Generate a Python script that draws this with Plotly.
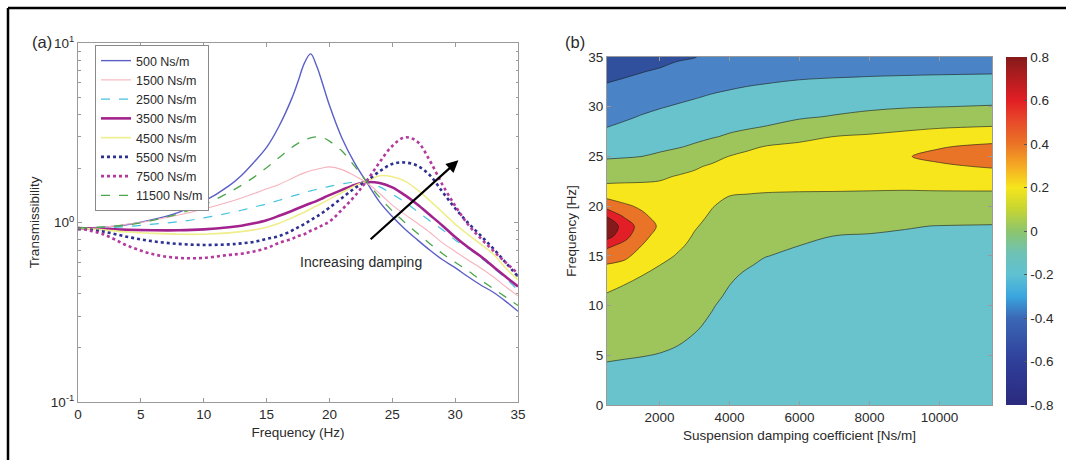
import numpy as np
import plotly.graph_objects as go

# ---------------- Panel (a): transmissibility curves ----------------
FREQ = [0, 2, 4, 6, 8, 10, 12, 13, 14, 15, 16, 17, 17.5, 18, 18.5, 19, 19.5, 20,
        21, 22, 23, 24, 25, 26, 27, 28, 29, 30, 31, 32, 33, 34, 35]

T_500 = [0.93, 0.94, 0.975, 1.04, 1.14, 1.31, 1.6, 1.83, 2.17, 2.62, 3.45, 4.9, 6.1, 7.7, 8.7, 7.4, 5.8, 4.5,
         2.95, 2.15, 1.66, 1.3, 1.08, 0.92, 0.8, 0.7, 0.62, 0.56, 0.5, 0.45, 0.41, 0.365, 0.32]
T_1500 = [0.93, 0.94, 0.98, 1.03, 1.1, 1.19, 1.3, 1.37, 1.45, 1.54, 1.63, 1.76, 1.83, 1.89, 1.94, 1.98, 2.02, 2.04,
          1.97, 1.82, 1.66, 1.45, 1.25, 1.11, 0.99, 0.88, 0.77, 0.69, 0.62, 0.56, 0.5, 0.44, 0.39]
T_2500 = [0.93, 0.935, 0.95, 0.98, 1.01, 1.06, 1.13, 1.17, 1.22, 1.27, 1.33, 1.4, 1.43, 1.47, 1.5, 1.53, 1.56, 1.59,
          1.64, 1.68, 1.67, 1.58, 1.44, 1.3, 1.15, 1.02, 0.91, 0.8, 0.72, 0.64, 0.56, 0.49, 0.42]
T_3500 = [0.93, 0.92, 0.91, 0.905, 0.905, 0.915, 0.94, 0.96, 0.99, 1.03, 1.09, 1.16, 1.2, 1.24, 1.28, 1.32, 1.37, 1.42,
          1.52, 1.62, 1.68, 1.66, 1.57, 1.42, 1.26, 1.1, 0.96, 0.83, 0.73, 0.65, 0.57, 0.5, 0.44]
T_4500 = [0.93, 0.91, 0.885, 0.87, 0.86, 0.86, 0.875, 0.89, 0.91, 0.94, 0.99, 1.06, 1.1, 1.14, 1.19, 1.24, 1.29, 1.35,
          1.47, 1.6, 1.7, 1.82, 1.8, 1.7, 1.52, 1.32, 1.14, 0.98, 0.86, 0.76, 0.67, 0.56, 0.48]
T_5500 = [0.93, 0.89, 0.83, 0.785, 0.76, 0.75, 0.755, 0.765, 0.78, 0.81, 0.84, 0.9, 0.94, 0.98, 1.03, 1.08, 1.14, 1.21,
          1.37, 1.55, 1.71, 1.93, 2.12, 2.16, 2.07, 1.83, 1.48, 1.2, 1.0, 0.85, 0.72, 0.6, 0.5]
T_7500 = [0.93, 0.86, 0.74, 0.665, 0.635, 0.635, 0.66, 0.67, 0.69, 0.72, 0.77, 0.81, 0.84, 0.86, 0.9, 0.93, 0.97, 1.01,
          1.18, 1.4, 1.72, 2.17, 2.67, 2.98, 2.82, 2.2, 1.62, 1.24, 0.98, 0.82, 0.7, 0.6, 0.52]
T_11500 = [0.93, 0.945, 0.97, 1.03, 1.12, 1.25, 1.47, 1.61, 1.79, 2.02, 2.3, 2.62, 2.76, 2.88, 2.96, 3.0, 2.96, 2.84,
           2.5, 2.06, 1.68, 1.38, 1.16, 1.0, 0.87, 0.76, 0.67, 0.6, 0.54, 0.48, 0.43, 0.385, 0.345]

SERIES_NAMES = ["500 Ns/m", "1500 Ns/m", "2500 Ns/m", "3500 Ns/m",
                "4500 Ns/m", "5500 Ns/m", "7500 Ns/m", "11500 Ns/m"]
SERIES_VALUES = [T_500, T_1500, T_2500, T_3500, T_4500, T_5500, T_7500, T_11500]
SERIES_STYLE = [
    dict(color="#5b5fc7", width=1.4, dash="solid"),
    dict(color="#f6b3bd", width=1.1, dash="solid"),
    dict(color="#45c3dd", width=1.2, dash="dash"),
    dict(color="#a3238e", width=2.6, dash="solid"),
    dict(color="#eeee8c", width=1.6, dash="solid"),
    dict(color="#2e3192", width=2.6, dash="dot"),
    dict(color="#b4399f", width=2.6, dash="dot"),
    dict(color="#4ca64c", width=1.3, dash="dash"),
]

# ---------------- Panel (b): contour map ----------------
DAMPING = [500, 1000, 1500, 2000, 2500, 3000, 3500, 4000, 4500, 5000, 6000, 7000, 8000, 9000, 10000, 11500]
FREQ_B = [0, 2, 4, 6, 8, 10, 11, 12, 13, 14, 15, 16, 17, 18, 19, 20, 21, 22, 23, 24, 25,
          26, 27, 28, 29, 30, 31, 32, 33, 34, 35]

Z_C500 = [-0.2, -0.155, -0.109, -0.055, 0.001, 0.058, 0.086, 0.136, 0.209, 0.282, 0.391, 0.54, 0.78, 0.81, 0.69,
          0.42, 0.26, 0.125, 0.036, -0.044, -0.119, -0.181, -0.244, -0.304, -0.349, -0.393, -0.438, -0.482, -0.528,
          -0.574, -0.62]
Z_C1000 = [-0.2, -0.157, -0.115, -0.065, -0.012, 0.041, 0.068, 0.095, 0.167, 0.25, 0.338, 0.433, 0.57, 0.64,
           0.471, 0.329, 0.224, 0.129, 0.044, -0.036, -0.111, -0.165, -0.219, -0.273, -0.323, -0.368, -0.414,
           -0.459, -0.505, -0.552, -0.6]
Z_C1500 = [-0.21, -0.165, -0.12, -0.073, -0.023, 0.026, 0.051, 0.075, 0.1, 0.167, 0.233, 0.295, 0.356, 0.389,
           0.333, 0.271, 0.2, 0.129, 0.054, -0.023, -0.1, -0.148, -0.195, -0.243, -0.29, -0.338, -0.386, -0.433,
           -0.481, -0.526, -0.57]
Z_C2000 = [-0.22, -0.174, -0.128, -0.082, -0.036, 0.009, 0.032, 0.055, 0.077, 0.098, 0.145, 0.19, 0.235, 0.28,
           0.242, 0.203, 0.165, 0.127, 0.077, 0.0, -0.077, -0.131, -0.176, -0.22, -0.264, -0.31, -0.359, -0.407,
           -0.456, -0.505, -0.55]
Z_C2500 = [-0.23, -0.187, -0.143, -0.098, -0.057, -0.015, 0.006, 0.028, 0.049, 0.07, 0.091, 0.123, 0.162, 0.201,
           0.24, 0.207, 0.173, 0.14, 0.107, 0.036, -0.044, -0.113, -0.157, -0.2, -0.243, -0.287, -0.333, -0.381,
           -0.429, -0.476, -0.52]
Z_C3000 = [-0.24, -0.201, -0.162, -0.123, -0.085, -0.046, -0.027, -0.008, 0.012, 0.031, 0.05, 0.069, 0.088, 0.113,
           0.145, 0.177, 0.19, 0.158, 0.126, 0.083, 0.0, -0.083, -0.135, -0.178, -0.222, -0.265, -0.31, -0.359,
           -0.407, -0.456, -0.505]
Z_C3500 = [-0.25, -0.217, -0.185, -0.152, -0.12, -0.092, -0.067, -0.049, -0.031, -0.013, 0.005, 0.024, 0.042,
           0.06, 0.08, 0.107, 0.13, 0.169, 0.155, 0.118, 0.055, -0.036, -0.113, -0.157, -0.2, -0.243, -0.287,
           -0.331, -0.376, -0.42, -0.465]
Z_C4000 = [-0.26, -0.233, -0.207, -0.18, -0.153, -0.132, -0.12, -0.1005, -0.087, -0.062, -0.038, -0.015, 0.005,
           0.022, 0.04, 0.057, 0.099, 0.14, 0.18, 0.142, 0.104, 0.014, -0.081, -0.136, -0.18, -0.224, -0.269,
           -0.314, -0.359, -0.405, -0.45]
Z_C4500 = [-0.265, -0.241, -0.216, -0.192, -0.168, -0.144, -0.132, -0.119, -0.113, -0.094, -0.064, -0.038, -0.012,
           0.014, 0.04, 0.066, 0.092, 0.13, 0.172, 0.159, 0.122, 0.08, -0.035, -0.125, -0.164, -0.209, -0.255,
           -0.298, -0.347, -0.393, -0.44]
Z_C5000 = [-0.27, -0.247, -0.223, -0.2, -0.177, -0.154, -0.142, -0.13, -0.119, -0.114, -0.097, -0.062, -0.032,
           -0.002, 0.028, 0.058, 0.087, 0.124, 0.169, 0.187, 0.143, 0.102, 0.0, -0.098, -0.147, -0.193, -0.24,
           -0.286, -0.334, -0.382, -0.43]
Z_C6000 = [-0.28, -0.257, -0.235, -0.212, -0.189, -0.167, -0.155, -0.144, -0.133, -0.124, -0.117, -0.101, -0.062,
           -0.025, 0.011, 0.046, 0.082, 0.122, 0.167, 0.211, 0.18, 0.13, 0.06, -0.04, -0.12, -0.168, -0.217,
           -0.266, -0.314, -0.362, -0.41]
Z_C7000 = [-0.28, -0.259, -0.238, -0.216, -0.195, -0.174, -0.164, -0.153, -0.142, -0.132, -0.121, -0.111, -0.101,
           -0.056, -0.011, 0.033, 0.078, 0.124, 0.173, 0.221, 0.225, 0.163, 0.101, 0.005, -0.09, -0.147, -0.2,
           -0.253, -0.305, -0.352, -0.4]
Z_C8000 = [-0.28, -0.26, -0.239, -0.219, -0.198, -0.178, -0.167, -0.157, -0.147, -0.137, -0.127, -0.116, -0.106,
           -0.08, -0.029, 0.022, 0.072, 0.124, 0.176, 0.228, 0.256, 0.188, 0.12, 0.036, -0.055, -0.129, -0.186,
           -0.243, -0.298, -0.345, -0.39]
Z_C9000 = [-0.28, -0.26, -0.24, -0.22, -0.2, -0.179, -0.169, -0.159, -0.149, -0.139, -0.129, -0.119, -0.109,
           -0.095, -0.041, 0.014, 0.068, 0.122, 0.178, 0.234, 0.29, 0.217, 0.144, 0.064, -0.027, -0.112, -0.173,
           -0.233, -0.294, -0.338, -0.38]
Z_C10000 = [-0.28, -0.26, -0.24, -0.221, -0.201, -0.181, -0.171, -0.161, -0.151, -0.142, -0.132, -0.122, -0.112,
            -0.102, -0.053, 0.006, 0.065, 0.13, 0.204, 0.278, 0.335, 0.289, 0.184, 0.082, -0.009, -0.102, -0.163,
            -0.227, -0.29, -0.337, -0.38]
Z_C11500 = [-0.28, -0.261, -0.241, -0.222, -0.202, -0.183, -0.173, -0.163, -0.154, -0.144, -0.134, -0.124, -0.115,
            -0.105, -0.068, -0.003, 0.061, 0.136, 0.227, 0.315, 0.392, 0.331, 0.225, 0.102, 0.005, -0.09, -0.158,
            -0.223, -0.287, -0.331, -0.37]

Z_COLUMNS = [Z_C500, Z_C1000, Z_C1500, Z_C2000, Z_C2500, Z_C3000, Z_C3500, Z_C4000, Z_C4500,
             Z_C5000, Z_C6000, Z_C7000, Z_C8000, Z_C9000, Z_C10000, Z_C11500]
Z_GRID = np.array(Z_COLUMNS).T.tolist()

X2_TICKS = [2000, 4000, 6000, 8000, 10000]
X2_TICKTEXT = ["2000", "4000", "6000", "8000", "10000"]
CB_TICKS = [-0.8, -0.6, -0.4, -0.2, 0, 0.2, 0.4, 0.6, 0.8]
CB_TICKTEXT = ["-0.8", "-0.6", "-0.4", "-0.2", "0", "0.2", "0.4", "0.6", "0.8"]

BAND_COLORS = ["#30509e", "#4a84c6", "#69c3cc", "#9dc55c", "#f8e61c", "#e97326", "#e21f26", "#861a1a"]
BAND_SCALE = [[i / (len(BAND_COLORS) - 1), c] for i, c in enumerate(BAND_COLORS)]
CB_SCALE = [
    [0.0, "#2b2a7e"], [0.125, "#2f3f99"], [0.25, "#3b68b6"], [0.3125, "#3aa6df"],
    [0.375, "#5fc1d2"], [0.4375, "#6fc2b4"], [0.5, "#8dc56c"], [0.5625, "#c6d532"],
    [0.625, "#f6e51c"], [0.6875, "#f5a924"], [0.75, "#eb7426"], [0.8125, "#e84c2a"],
    [0.875, "#e21f25"], [1.0, "#861a1a"],
]

W, H = 1069, 460
FONT = "Arial, 'Liberation Sans', sans-serif"
TXT = "#2a2a2a"

def px_x(v):
    return v / W

def px_y(v):
    return 1 - v / H

fig = go.Figure()

for name, vals, st in zip(SERIES_NAMES, SERIES_VALUES, SERIES_STYLE):
    fig.add_trace(go.Scatter(
        x=FREQ, y=vals, name=name, mode="lines",
        line=dict(color=st["color"], width=st["width"], dash=st["dash"], shape="spline", smoothing=1.0),
        xaxis="x", yaxis="y",
    ))

fig.add_trace(go.Contour(
    x=DAMPING, y=FREQ_B, z=Z_GRID, xaxis="x2", yaxis="y2",
    autocontour=False,
    contours=dict(start=-0.5, end=0.7, size=0.2, coloring="fill", showlines=True),
    line=dict(color="#1a1a1a", width=0.6, smoothing=1.0),
    colorscale=BAND_SCALE, showscale=False, showlegend=False, hoverinfo="skip",
))

# continuous colour bar carried by an invisible helper trace
fig.add_trace(go.Scatter(
    x=[None], y=[None], mode="markers", xaxis="x2", yaxis="y2", showlegend=False, hoverinfo="skip",
    marker=dict(color=[0], cmin=-0.8, cmax=0.8, colorscale=CB_SCALE, showscale=True, opacity=0,
                colorbar=dict(x=px_x(1006), xanchor="left", y=px_y(231), yanchor="middle",
                              len=348 / H, lenmode="fraction", thickness=21, thicknessmode="pixels",
                              xpad=0, ypad=0, outlinewidth=0,
                              tickmode="array", tickvals=CB_TICKS, ticktext=CB_TICKTEXT,
                              ticks="inside", ticklen=3, tickcolor="#555",
                              tickfont=dict(size=13.5, color=TXT, family=FONT))),
))

axis_common = dict(showgrid=False, zeroline=False, showline=True, linecolor="#9a9a9a", linewidth=1,
                   mirror="ticks", ticks="inside", tickcolor="#9a9a9a", ticklen=4,
                   tickfont=dict(size=13.5, color=TXT, family=FONT), automargin=False)
title_font = dict(size=13.5, color=TXT, family=FONT)

fig.update_layout(
    width=W, height=H, autosize=False,
    margin=dict(l=0, r=0, t=0, b=0),
    paper_bgcolor="white", plot_bgcolor="white",
    font=dict(family=FONT, size=13.5, color=TXT),
    xaxis=dict(domain=[px_x(78), px_x(518)], range=[0, 35], tickmode="array",
               tickvals=[0, 5, 10, 15, 20, 25, 30, 35], anchor="y",
               title=dict(text="Frequency (Hz)", font=title_font, standoff=6), **axis_common),
    yaxis=dict(domain=[px_y(402), px_y(43)], type="log", range=[-1, 1], tickmode="array",
               tickvals=[0.1, 1, 10], ticktext=["10<sup>-1</sup>", "10<sup>0</sup>", "10<sup>1</sup>"],
               minor=dict(tickmode="array",
                          tickvals=[0.2, 0.3, 0.4, 0.5, 0.6, 0.7, 0.8, 0.9, 2, 3, 4, 5, 6, 7, 8, 9],
                          ticks="inside", ticklen=2.5, tickcolor="#9a9a9a"),
               anchor="x", title=dict(text="Transmissibility", font=title_font, standoff=8), **axis_common),
    xaxis2=dict(domain=[px_x(607), px_x(992)], range=[500, 11500], tickmode="array",
                tickvals=X2_TICKS, ticktext=X2_TICKTEXT, anchor="y2",
                title=dict(text="Suspension damping coefficient [Ns/m]", font=title_font, standoff=6),
                **axis_common),
    yaxis2=dict(domain=[px_y(405), px_y(57)], range=[0, 35], tickmode="array",
                tickvals=[0, 5, 10, 15, 20, 25, 30, 35], anchor="x2",
                title=dict(text="Frequency [Hz]", font=title_font, standoff=8), **axis_common),
    legend=dict(x=px_x(95), y=px_y(45), xanchor="left", yanchor="top",
                bgcolor="white", bordercolor="#8a8a8a", borderwidth=1,
                font=dict(size=12.5, color=TXT, family=FONT), tracegroupgap=0),
    showlegend=True,
)

annotations = [
    dict(text="(a)", x=px_x(30), y=px_y(42), xref="paper", yref="paper", xanchor="left", yanchor="middle",
         showarrow=False, font=dict(size=16.5, color=TXT)),
    dict(text="(b)", x=px_x(563), y=px_y(42), xref="paper", yref="paper", xanchor="left", yanchor="middle",
         showarrow=False, font=dict(size=16.5, color=TXT)),
    dict(text="Increasing damping", x=22.5, y=np.log10(0.605), xref="x", yref="y",
         xanchor="center", yanchor="middle", showarrow=False, font=dict(size=14, color=TXT)),
    dict(text="", x=30.26, y=np.log10(2.22), xref="x", yref="y",
         ax=23.16, ay=np.log10(0.793), axref="x", ayref="y",
         showarrow=True, arrowhead=2, arrowsize=1.1, arrowwidth=2.2, arrowcolor="black"),
]
fig.update_layout(annotations=annotations)

fig.update_layout(shapes=[
    dict(type="line", xref="paper", yref="paper", x0=px_x(8), x1=px_x(1066), y0=px_y(8), y1=px_y(8),
         line=dict(color="black", width=2.5)),
    dict(type="line", xref="paper", yref="paper", x0=px_x(8), x1=px_x(8), y0=0, y1=px_y(8),
         line=dict(color="black", width=2.5)),
])

fig.write_html("out.html")
